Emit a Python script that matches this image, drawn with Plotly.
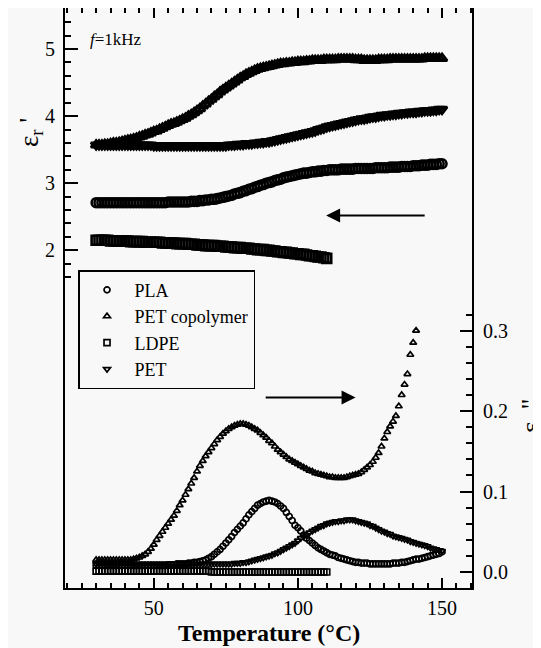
import plotly.graph_objects as go

# ---------------- data ----------------
T_full = list(range(30, 151))        # measurement temperatures (°C) 30..150
T_ldpe = list(range(30, 111))        # 30..110
T_petcop2 = list(range(30, 142))     # 30..141

# real permittivity (left axis)
pla_e1 = [2.71,2.71,2.71,2.71,2.71,2.71,2.71,2.71,2.71,2.71,
          2.71,2.71,2.71,2.71,2.71,2.71,2.71,2.71,2.71,2.71,
          2.71,2.71,2.71,2.71,2.71,2.72,2.72,2.72,2.72,2.72,
          2.72,2.72,2.72,2.73,2.73,2.73,2.74,2.74,2.75,2.75,
          2.76,2.76,2.77,2.78,2.79,2.80,2.81,2.82,2.84,2.85,
          2.86,2.88,2.89,2.91,2.92,2.94,2.95,2.97,2.98,3.00,
          3.01,3.02,3.04,3.05,3.06,3.08,3.09,3.10,3.11,3.12,
          3.13,3.14,3.15,3.15,3.16,3.17,3.17,3.18,3.18,3.19,
          3.19,3.20,3.20,3.20,3.20,3.21,3.21,3.21,3.21,3.21,
          3.22,3.22,3.22,3.22,3.22,3.22,3.22,3.23,3.23,3.23,
          3.23,3.23,3.24,3.24,3.24,3.24,3.25,3.25,3.25,3.25,
          3.26,3.26,3.26,3.27,3.27,3.27,3.28,3.28,3.28,3.29,3.29]

petcop_e1 = [3.57,3.57,3.57,3.58,3.58,3.59,3.60,3.60,3.61,3.62,
             3.63,3.64,3.65,3.66,3.67,3.69,3.70,3.72,3.73,3.75,
             3.77,3.78,3.80,3.82,3.84,3.86,3.88,3.89,3.91,3.93,
             3.95,3.97,4.00,4.02,4.05,4.08,4.11,4.15,4.18,4.22,
             4.25,4.29,4.32,4.36,4.39,4.42,4.45,4.48,4.51,4.54,
             4.57,4.59,4.62,4.64,4.66,4.68,4.70,4.71,4.72,4.73,
             4.74,4.75,4.76,4.77,4.78,4.78,4.79,4.79,4.80,4.80,
             4.81,4.81,4.81,4.82,4.82,4.83,4.83,4.83,4.83,4.84,
             4.84,4.84,4.84,4.84,4.85,4.85,4.85,4.85,4.85,4.85,
             4.84,4.84,4.84,4.83,4.83,4.83,4.83,4.83,4.84,4.84,
             4.84,4.84,4.85,4.85,4.85,4.85,4.85,4.85,4.85,4.85,
             4.85,4.85,4.85,4.85,4.86,4.86,4.86,4.86,4.86,4.86,4.86]

ldpe_e1 = [2.15,2.15,2.15,2.15,2.15,2.14,2.14,2.14,2.14,2.14,
           2.14,2.14,2.13,2.13,2.13,2.13,2.13,2.12,2.12,2.12,
           2.12,2.12,2.12,2.11,2.11,2.11,2.11,2.11,2.10,2.10,
           2.10,2.10,2.09,2.09,2.09,2.08,2.08,2.08,2.07,2.07,
           2.07,2.07,2.06,2.06,2.06,2.05,2.05,2.05,2.04,2.04,
           2.04,2.03,2.03,2.03,2.02,2.02,2.01,2.01,2.01,2.00,
           2.00,1.99,1.99,1.98,1.98,1.97,1.97,1.96,1.96,1.95,
           1.95,1.94,1.94,1.93,1.92,1.92,1.91,1.90,1.90,1.89,1.88]

pet_e1 = [3.57,3.57,3.57,3.57,3.57,3.57,3.57,3.57,3.57,3.57,
          3.57,3.57,3.57,3.57,3.57,3.57,3.57,3.57,3.57,3.57,
          3.56,3.56,3.56,3.56,3.56,3.56,3.56,3.56,3.56,3.56,
          3.56,3.56,3.56,3.56,3.56,3.56,3.56,3.56,3.56,3.56,
          3.56,3.56,3.56,3.56,3.56,3.56,3.57,3.57,3.57,3.58,
          3.58,3.58,3.59,3.59,3.59,3.60,3.60,3.61,3.61,3.62,
          3.62,3.63,3.64,3.65,3.66,3.67,3.68,3.69,3.70,3.71,
          3.72,3.73,3.74,3.75,3.76,3.77,3.78,3.80,3.81,3.82,
          3.84,3.85,3.86,3.87,3.88,3.89,3.90,3.91,3.92,3.93,
          3.94,3.95,3.96,3.96,3.97,3.98,3.99,3.99,4.00,4.01,
          4.01,4.02,4.02,4.03,4.03,4.04,4.04,4.05,4.05,4.06,
          4.06,4.06,4.07,4.07,4.08,4.08,4.08,4.09,4.09,4.10,4.10]

# imaginary permittivity (right axis)
pla_e2 = [0.008,0.008,0.008,0.008,0.008,0.008,0.008,0.008,0.008,0.008,
          0.008,0.008,0.008,0.008,0.008,0.008,0.008,0.008,0.008,0.008,
          0.008,0.008,0.008,0.008,0.008,0.009,0.009,0.009,0.010,0.010,
          0.010,0.010,0.011,0.011,0.012,0.012,0.013,0.014,0.015,0.017,
          0.019,0.022,0.025,0.028,0.032,0.036,0.040,0.044,0.049,0.053,
          0.057,0.061,0.066,0.071,0.075,0.079,0.083,0.085,0.087,0.088,
          0.089,0.088,0.087,0.085,0.082,0.079,0.074,0.069,0.064,0.058,
          0.055,0.051,0.046,0.042,0.039,0.036,0.033,0.030,0.028,0.026,
          0.024,0.022,0.021,0.020,0.018,0.017,0.016,0.015,0.014,0.013,
          0.012,0.012,0.011,0.011,0.011,0.010,0.010,0.010,0.010,0.010,
          0.010,0.010,0.010,0.011,0.011,0.011,0.012,0.012,0.013,0.014,
          0.015,0.016,0.016,0.017,0.018,0.019,0.020,0.021,0.022,0.023,0.025]

petcop_e2 = [0.015,0.015,0.015,0.015,0.015,0.015,0.015,0.015,0.015,0.015,
             0.015,0.015,0.015,0.016,0.017,0.018,0.020,0.022,0.025,0.029,
             0.034,0.040,0.045,0.050,0.055,0.060,0.065,0.070,0.076,0.083,
             0.089,0.096,0.103,0.110,0.117,0.125,0.132,0.138,0.144,0.149,
             0.154,0.159,0.164,0.168,0.172,0.175,0.178,0.180,0.182,0.183,
             0.184,0.184,0.183,0.182,0.180,0.178,0.176,0.173,0.170,0.167,
             0.163,0.160,0.156,0.152,0.149,0.146,0.143,0.140,0.138,0.136,
             0.134,0.132,0.130,0.128,0.126,0.125,0.123,0.122,0.121,0.120,
             0.119,0.118,0.118,0.117,0.117,0.117,0.117,0.118,0.119,0.120,
             0.121,0.122,0.124,0.127,0.130,0.133,0.137,0.142,0.148,0.156,
             0.166,0.174,0.181,0.187,0.194,0.206,0.220,0.233,0.246,0.270,
             0.285,0.300]

ldpe_e2 = [0.001,0.001,0.001,0.001,0.001,0.001,0.001,0.001,0.001,0.001,
           0.001,0.001,0.001,0.001,0.001,0.001,0.001,0.001,0.001,0.001,
           0.001,0.001,0.001,0.001,0.001,0.001,0.001,0.001,0.001,0.001,
           0.001,0.001,0.001,0.001,0.001,0.001,0.001,0.001,0.001,0.001,
           0.000,0.000,0.000,0.000,0.000,0.000,0.000,0.000,0.000,0.000,
           0.000,0.000,0.000,0.000,0.000,0.000,0.000,0.000,0.000,0.000,
           0.000,0.000,0.000,0.000,0.000,0.000,0.000,0.000,0.000,0.000,
           0.000,0.000,0.000,0.000,0.000,0.000,0.000,0.000,0.000,0.000,0.000]

pet_e2 = [0.010,0.010,0.010,0.010,0.010,0.010,0.010,0.010,0.010,0.010,
          0.010,0.010,0.010,0.010,0.010,0.010,0.010,0.010,0.010,0.010,
          0.010,0.010,0.010,0.010,0.010,0.010,0.010,0.010,0.010,0.010,
          0.010,0.010,0.010,0.010,0.010,0.010,0.010,0.010,0.010,0.010,
          0.010,0.010,0.010,0.010,0.010,0.010,0.010,0.010,0.011,0.011,
          0.011,0.012,0.012,0.013,0.014,0.015,0.016,0.017,0.018,0.019,
          0.020,0.021,0.023,0.024,0.026,0.028,0.030,0.032,0.034,0.036,
          0.039,0.042,0.044,0.046,0.049,0.051,0.053,0.055,0.057,0.058,
          0.060,0.061,0.062,0.063,0.063,0.064,0.064,0.065,0.065,0.065,
          0.064,0.063,0.062,0.061,0.060,0.058,0.057,0.055,0.053,0.051,
          0.050,0.048,0.047,0.045,0.044,0.043,0.042,0.041,0.040,0.038,
          0.037,0.036,0.035,0.034,0.033,0.032,0.030,0.029,0.028,0.027,0.026]

names = ["PLA", "PET copolymer", "LDPE", "PET"]
symbols = ["circle-open", "triangle-up-open", "square-open", "triangle-down-open"]

left_ticks = [2, 3, 4, 5]
left_minor = [1.6, 1.8, 2.2, 2.4, 2.6, 2.8, 3.2, 3.4, 3.6, 3.8,
              4.2, 4.4, 4.6, 4.8, 5.2, 5.4]
right_ticks = [0.0, 0.1, 0.2, 0.3]
right_ticktext = ["0.0", "0.1", "0.2", "0.3"]
right_minor = [0.02, 0.04, 0.06, 0.08, 0.12, 0.14, 0.16, 0.18,
               0.22, 0.24, 0.26, 0.28, 0.32]
x_ticks = [50, 100, 150]

# ---------------- figure ----------------
BG = "#f8f8f8"
FONT = "Liberation Serif"

fig = go.Figure()

e1_sets = [(T_full, pla_e1), (T_full, petcop_e1), (T_ldpe, ldpe_e1), (T_full, pet_e1)]
e2_sets = [(T_full, pla_e2), (T_petcop2, petcop_e2), (T_ldpe, ldpe_e2), (T_full, pet_e2)]

for (tx, ty), nm, sym in zip(e1_sets, names, symbols):
    fig.add_trace(go.Scatter(
        x=tx, y=ty, mode="markers", name=nm, showlegend=False, yaxis="y",
        marker=dict(symbol=sym, size=9, color="black", line=dict(width=2.6, color="black"))))

for (tx, ty), nm, sym in zip(e2_sets, names, symbols):
    fig.add_trace(go.Scatter(
        x=tx, y=ty, mode="markers", name=nm, showlegend=True, yaxis="y2",
        marker=dict(symbol=sym, size=6, color="black", line=dict(width=1.7, color="black"))))

# the page adds an 8 px body margin, so the figure is 8 px smaller on each axis
fig.update_layout(
    width=533, height=640,
    margin=dict(l=57, r=69, t=0, b=60, autoexpand=False),
    paper_bgcolor=BG, plot_bgcolor=BG,
    font=dict(family=FONT, size=20, color="black"),
    showlegend=True,
    legend=dict(x=0.032, y=0.548, xanchor="left", yanchor="top",
                bgcolor=BG, bordercolor="black", borderwidth=1.5,
                font=dict(family=FONT, size=18, color="black"),
                tracegroupgap=0, itemwidth=45),
    xaxis=dict(range=[19.2, 160.4], tickmode="array", tickvals=x_ticks,
               ticks="inside", ticklen=10, tickwidth=2, tickcolor="black",
               minor=dict(dtick=5, tick0=0, ticks="inside", ticklen=5, tickwidth=1.5, tickcolor="black"),
               showline=True, linewidth=2, linecolor="black", mirror="ticks",
               showgrid=False, zeroline=False, ticklabelstandoff=1,
               tickfont=dict(family=FONT, size=20)),
    yaxis=dict(range=[-3.03, 5.61], tickmode="array", tickvals=left_ticks,
               ticks="inside", ticklen=13, tickwidth=2, tickcolor="black",
               minor=dict(tickmode="array", tickvals=left_minor, ticks="inside",
                          ticklen=6, tickwidth=1.5, tickcolor="black"),
               showline=True, linewidth=2, linecolor="black", mirror=False,
               showgrid=False, zeroline=False, ticklabelstandoff=4,
               tickfont=dict(family=FONT, size=20)),
    yaxis2=dict(range=[-0.0199, 0.701], overlaying="y", side="right",
                tickmode="array", tickvals=right_ticks, ticktext=right_ticktext,
                ticks="inside", ticklen=12, tickwidth=2, tickcolor="black",
                minor=dict(tickmode="array", tickvals=right_minor, ticks="inside",
                           ticklen=6, tickwidth=1.5, tickcolor="black"),
                showline=True, linewidth=2, linecolor="black",
                showgrid=False, zeroline=False, ticklabelstandoff=5,
                tickfont=dict(family=FONT, size=20)),
)

annotations = [
    dict(text="<i>f</i>=1kHz", x=27.2, y=5.14, xref="x", yref="y",
         xanchor="left", yanchor="middle", showarrow=False,
         font=dict(family=FONT, size=17, color="black")),
    dict(text="ε<sub>r</sub> '", x=-0.085, y=0.785, xref="paper", yref="paper",
         textangle=-90, showarrow=False, xanchor="center", yanchor="middle",
         font=dict(family=FONT, size=27, color="black")),
    dict(text="ε<sub>r</sub> ''", x=1.15, y=0.296, xref="paper", yref="paper",
         textangle=-90, showarrow=False, xanchor="center", yanchor="middle",
         font=dict(family=FONT, size=27, color="black")),
    dict(text="<b>Temperature (°C)</b>", x=0.5, y=-0.077, xref="paper", yref="paper",
         showarrow=False, xanchor="center", yanchor="middle",
         font=dict(family=FONT, size=24, color="black")),
    # arrow pointing to left axis
    dict(x=109.8, y=2.52, ax=144.5, ay=2.52, xref="x", yref="y", axref="x", ayref="y",
         showarrow=True, arrowhead=2, arrowsize=1.4, arrowwidth=2, arrowcolor="black", text=""),
    # arrow pointing to right axis
    dict(x=120.0, y=0.217, ax=88.3, ay=0.217, xref="x", yref="y2", axref="x", ayref="y2",
         showarrow=True, arrowhead=2, arrowsize=1.4, arrowwidth=2, arrowcolor="black", text=""),
]
fig.update_layout(annotations=annotations)

fig.write_html("out.html")
